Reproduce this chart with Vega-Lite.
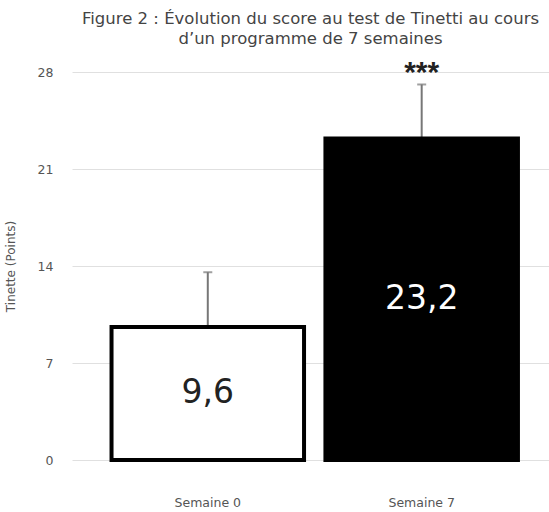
{
  "$schema": "https://vega.github.io/schema/vega-lite/v6.json",
  "autosize": {"type": "none"},
  "padding": {"left": 72, "top": 72, "right": 0, "bottom": 52},
  "width": 477,
  "height": 388,
  "background": "white",
  "config": {
    "locale": {"number": {"decimal": ",", "thousands": " ", "grouping": [3], "currency": ["", " €"]}},
    "view": {"stroke": null},
    "font": "DejaVu Sans"
  },
  "title": {
    "text": ["Figure 2 : Évolution du score au test de Tinetti au cours", "d’un programme de 7 semaines"],
    "fontSize": 16.5,
    "fontWeight": "normal",
    "color": "#444",
    "lineHeight": 20,
    "anchor": "middle",
    "offset": 11,
    "dx": 0
  },
  "data": {
    "values": [
      {"semaine": "Semaine 0", "value": 9.6, "sd": 3.95, "sig": ""},
      {"semaine": "Semaine 7", "value": 23.2, "sd": 3.9, "sig": "***"}
    ]
  },
  "encoding": {
    "x": {
      "field": "semaine",
      "type": "nominal",
      "scale": {"paddingInner": 0.1, "paddingOuter": 0.165, "align": 0.56},
      "axis": {
        "title": null,
        "labelAngle": 0,
        "labelFontSize": 12.5,
        "labelColor": "#555",
        "labelPadding": 36,
        "ticks": false,
        "domain": false
      }
    }
  },
  "layer": [
    {
      "mark": {"type": "errorbar", "ticks": {"size": 9}, "color": "#777", "thickness": 2},
      "encoding": {
        "y": {
          "field": "value",
          "type": "quantitative",
          "scale": {"domain": [0, 28]},
          "axis": {
            "title": "Tinette (Points)",
            "titleFontSize": 12,
            "titleFontWeight": "normal",
            "titleColor": "#555",
            "titleX": -55,
            "values": [0, 7, 14, 21, 28],
            "labelFontSize": 12.5,
            "labelColor": "#555",
            "labelPadding": 19,
            "ticks": false,
            "domain": false,
            "grid": true,
            "gridColor": "#e0e0e0",
            "gridWidth": 1
          }
        },
        "yError": {"field": "sd"}
      }
    },
    {
      "mark": {"type": "rule", "color": "#999", "strokeWidth": 2},
      "encoding": {"y": {"datum": 0}}
    },
    {
      "mark": {"type": "bar", "strokeWidth": 4, "stroke": "black"},
      "encoding": {
        "y": {"field": "value", "type": "quantitative"},
        "color": {
          "field": "semaine",
          "type": "nominal",
          "scale": {"domain": ["Semaine 0", "Semaine 7"], "range": ["white", "black"]},
          "legend": null
        }
      }
    },
    {
      "transform": [{"calculate": "datum.value / 2", "as": "mid"}],
      "mark": {"type": "text", "fontSize": 33, "baseline": "middle", "align": "center"},
      "encoding": {
        "y": {"field": "mid", "type": "quantitative"},
        "text": {"field": "value", "type": "quantitative", "format": ".1f"},
        "color": {
          "field": "semaine",
          "type": "nominal",
          "scale": {"domain": ["Semaine 0", "Semaine 7"], "range": ["#222", "white"]},
          "legend": null
        }
      }
    },
    {
      "mark": {"type": "text", "font": "Liberation Sans", "fontSize": 30, "fontWeight": "bold", "baseline": "alphabetic", "align": "center", "color": "#222", "dy": 10},
      "encoding": {
        "y": {"datum": 28},
        "text": {"field": "sig"}
      }
    }
  ],
  "resolve": {"scale": {"color": "independent"}}
}
